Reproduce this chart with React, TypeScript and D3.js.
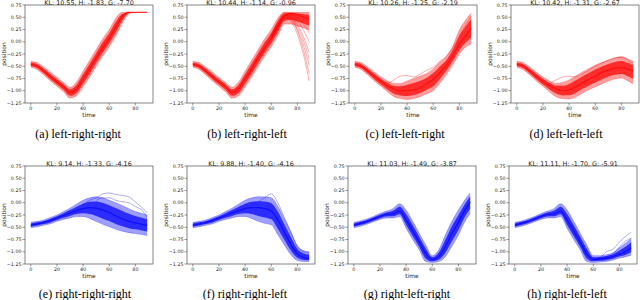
import React from 'react';
import * as d3 from 'd3';

// time samples (data runs 0..89)
const T = [0, 5, 10, 15, 20, 25, 30, 35, 40, 45, 50, 55, 60, 65, 70, 75, 80, 85, 89];

const TITLES = [
  'KL: 10.55, H: -1.83, G: -7.70',
  'KL: 10.44, H: -1.14, G: -0.96',
  'KL: 10.26, H: -1.25, G: -2.19',
  'KL: 10.42, H: -1.31, G: -2.67',
  'KL: 9.14, H: -1.33, G: -4.16',
  'KL: 9.88, H: -1.40, G: -4.16',
  'KL: 11.03, H: -1.49, G: -3.87',
  'KL: 11.11, H: -1.70, G: -5.91',
];
const CAPTIONS = [
  '(a) left-right-right', '(b) left-right-left', '(c) left-left-right', '(d) left-left-left',
  '(e) right-right-right', '(f) right-right-left', '(g) right-left-right', '(h) right-left-left',
];
const Y_TICKS = [-1.25, -1.0, -0.75, -0.5, -0.25, 0.0, 0.25, 0.5, 0.75];
const X_TICKS = [0, 20, 40, 60, 80];

// ---- (a) left-right-right
const A_LO = [-0.52, -0.57, -0.68, -0.80, -0.91, -1.02, -1.15, -1.10, -0.92, -0.72, -0.50, -0.29, -0.10, 0.12, 0.38, 0.57, 0.60, 0.60, 0.60];
const A_MID = [-0.46, -0.50, -0.60, -0.71, -0.82, -0.92, -1.03, -0.96, -0.76, -0.55, -0.33, -0.12, 0.07, 0.30, 0.52, 0.60, 0.60, 0.60, 0.60];
const A_HI = [-0.40, -0.43, -0.52, -0.62, -0.73, -0.83, -0.93, -0.82, -0.60, -0.38, -0.16, 0.06, 0.25, 0.48, 0.60, 0.60, 0.60, 0.60, 0.60];
const A_EXTRA: (number | null)[][] = [];

// ---- (b) left-right-left
const B_LO = [-0.52, -0.57, -0.68, -0.80, -0.91, -1.02, -1.15, -1.10, -0.92, -0.72, -0.50, -0.29, -0.10, 0.12, 0.36, 0.36, 0.32, 0.28, 0.24];
const B_MID = [-0.46, -0.50, -0.60, -0.71, -0.82, -0.92, -1.03, -0.96, -0.76, -0.55, -0.33, -0.12, 0.07, 0.30, 0.52, 0.58, 0.55, 0.50, 0.46];
const B_HI = [-0.40, -0.43, -0.52, -0.62, -0.73, -0.83, -0.93, -0.82, -0.60, -0.38, -0.16, 0.06, 0.25, 0.48, 0.60, 0.60, 0.60, 0.60, 0.60];
const B_EXTRA: (number | null)[][] = [
  [null, null, null, null, null, null, null, null, null, null, null, null, 0.05, 0.30, 0.50, 0.42, 0.15, -0.30, -0.80],
  [null, null, null, null, null, null, null, null, null, null, null, null, 0.08, 0.34, 0.54, 0.48, 0.25, -0.10, -0.48],
  [null, null, null, null, null, null, null, null, null, null, null, null, 0.10, 0.36, 0.56, 0.52, 0.35, 0.08, -0.22],
  [null, null, null, null, null, null, null, null, null, null, null, null, 0.04, 0.28, 0.50, 0.45, 0.22, -0.20, -0.65],
  [null, null, null, null, null, null, null, null, null, null, null, null, 0.12, 0.40, 0.58, 0.55, 0.42, 0.22, 0.00],
  [null, null, null, null, null, null, null, null, null, null, null, null, 0.06, 0.32, 0.53, 0.50, 0.30, 0.00, -0.35],
  [null, null, null, null, null, null, null, null, null, null, null, null, 0.14, 0.42, 0.59, 0.57, 0.48, 0.35, 0.18],
];

// ---- (c) left-left-right
const C_LO = [-0.52, -0.57, -0.68, -0.80, -0.91, -1.02, -1.12, -1.16, -1.18, -1.16, -1.12, -1.06, -1.00, -0.85, -0.67, -0.47, -0.25, -0.10, -0.05];
const C_MID = [-0.46, -0.50, -0.60, -0.71, -0.81, -0.90, -0.97, -1.00, -1.00, -0.98, -0.94, -0.86, -0.77, -0.63, -0.48, -0.28, -0.05, 0.13, 0.28];
const C_HI = [-0.40, -0.43, -0.52, -0.62, -0.72, -0.80, -0.85, -0.85, -0.80, -0.75, -0.70, -0.65, -0.55, -0.42, -0.30, -0.08, 0.24, 0.45, 0.58];
const C_EXTRA: (number | null)[][] = [
  [null, null, null, null, null, -0.85, -0.78, -0.70, -0.69, -0.72, -0.66, -0.58, -0.52, -0.40, -0.30, -0.12, 0.12, 0.35, 0.52],
];

// ---- (d) left-left-left
const D_LO = [-0.52, -0.57, -0.68, -0.80, -0.91, -1.02, -1.12, -1.16, -1.17, -1.13, -1.05, -0.98, -0.92, -0.86, -0.80, -0.76, -0.74, -0.80, -0.86];
const D_MID = [-0.46, -0.50, -0.60, -0.71, -0.81, -0.90, -0.96, -1.00, -0.98, -0.92, -0.84, -0.77, -0.70, -0.63, -0.58, -0.54, -0.53, -0.56, -0.60];
const D_HI = [-0.40, -0.43, -0.52, -0.62, -0.72, -0.80, -0.85, -0.83, -0.78, -0.70, -0.62, -0.55, -0.48, -0.42, -0.37, -0.33, -0.30, -0.35, -0.40];
const D_EXTRA: (number | null)[][] = [
  [null, null, null, null, null, -0.85, -0.78, -0.72, -0.70, -0.72, -0.66, -0.58, -0.50, -0.44, -0.38, -0.33, -0.32, -0.38, -0.45],
];

// ---- (e) right-right-right
const E_LO = [-0.51, -0.49, -0.46, -0.43, -0.38, -0.34, -0.31, -0.28, -0.28, -0.32, -0.38, -0.44, -0.49, -0.54, -0.58, -0.61, -0.63, -0.65, -0.67];
const E_MID = [-0.46, -0.43, -0.40, -0.36, -0.31, -0.26, -0.21, -0.16, -0.12, -0.10, -0.11, -0.15, -0.20, -0.27, -0.33, -0.38, -0.41, -0.44, -0.46];
const E_HI = [-0.40, -0.38, -0.35, -0.30, -0.25, -0.18, -0.11, -0.03, 0.05, 0.10, 0.12, 0.10, 0.05, 0.00, -0.06, -0.12, -0.18, -0.22, -0.25];
const E_EXTRA: (number | null)[][] = [
  [null, null, null, null, null, null, null, null, -0.05, 0.05, 0.10, 0.18, 0.20, 0.17, 0.15, 0.12, 0.02, -0.10, -0.20],
  [null, null, null, null, null, null, null, null, null, null, 0.05, 0.10, 0.10, 0.05, 0.02, 0.00, -0.08, -0.15, -0.30],
];

// ---- (f) right-right-left
const F_LO = [-0.51, -0.49, -0.46, -0.43, -0.38, -0.34, -0.31, -0.28, -0.28, -0.32, -0.38, -0.42, -0.45, -0.65, -0.86, -1.06, -1.18, -1.20, -1.20];
const F_MID = [-0.46, -0.43, -0.40, -0.36, -0.31, -0.26, -0.21, -0.16, -0.12, -0.10, -0.10, -0.12, -0.17, -0.35, -0.60, -0.85, -1.04, -1.12, -1.14];
const F_HI = [-0.40, -0.38, -0.35, -0.30, -0.25, -0.18, -0.11, -0.03, 0.05, 0.10, 0.12, 0.12, 0.10, -0.07, -0.33, -0.60, -0.88, -0.98, -1.00];
const F_EXTRA: (number | null)[][] = [
  [null, null, null, null, null, null, null, null, null, null, 0.02, 0.10, 0.18, 0.00, -0.30, -0.60, -0.90, -1.00, -1.02],
];

// ---- (g) right-left-right
const G_LO = [-0.51, -0.48, -0.44, -0.39, -0.34, -0.31, -0.31, -0.28, -0.52, -0.75, -0.96, -1.20, -1.22, -1.20, -1.10, -0.89, -0.66, -0.38, -0.22];
const G_MID = [-0.46, -0.42, -0.38, -0.33, -0.28, -0.24, -0.23, -0.17, -0.35, -0.57, -0.80, -1.04, -1.16, -1.10, -0.90, -0.63, -0.40, -0.15, 0.02];
const G_HI = [-0.40, -0.37, -0.33, -0.28, -0.22, -0.17, -0.12, -0.02, -0.15, -0.38, -0.62, -0.86, -1.08, -0.96, -0.66, -0.38, -0.15, 0.06, 0.20];
const G_EXTRA: (number | null)[][] = [];

// ---- (h) right-left-left
const H_LO = [-0.51, -0.48, -0.44, -0.39, -0.34, -0.31, -0.31, -0.28, -0.52, -0.75, -0.96, -1.20, -1.22, -1.21, -1.20, -1.17, -1.13, -1.10, -1.07];
const H_MID = [-0.46, -0.42, -0.38, -0.33, -0.28, -0.24, -0.23, -0.17, -0.35, -0.57, -0.80, -1.04, -1.16, -1.15, -1.13, -1.10, -1.05, -1.00, -0.92];
const H_HI = [-0.40, -0.37, -0.33, -0.28, -0.22, -0.17, -0.12, -0.02, -0.15, -0.38, -0.62, -0.86, -1.08, -1.08, -1.06, -1.02, -0.92, -0.82, -0.73];
const H_EXTRA: (number | null)[][] = [
  [null, null, null, null, null, null, null, null, null, null, null, null, -1.14, -1.12, -1.00, -0.95, -0.80, -0.68, -0.60],
  [null, null, null, null, null, null, null, null, null, null, null, null, -1.15, -1.14, -1.10, -1.05, -0.90, -0.78, -0.72],
];

const RED = '#ff0000';
const BLUE = '#0000ff';

const PANEL_LEFT = [[25, 187, 349, 511], [25, 187, 348, 509]];
const PANEL_TOP = [5, 166];
const PLOT_W = 128;
const PLOT_H = 98;
const CAPTION_X = [[78, 247, 405, 566], [85, 245, 407, 567]];
const CAPTION_Y = [138, 298];

const SERIES = [
  { lo: A_LO, mid: A_MID, hi: A_HI, extra: A_EXTRA, color: RED },
  { lo: B_LO, mid: B_MID, hi: B_HI, extra: B_EXTRA, color: RED },
  { lo: C_LO, mid: C_MID, hi: C_HI, extra: C_EXTRA, color: RED },
  { lo: D_LO, mid: D_MID, hi: D_HI, extra: D_EXTRA, color: RED },
  { lo: E_LO, mid: E_MID, hi: E_HI, extra: E_EXTRA, color: BLUE },
  { lo: F_LO, mid: F_MID, hi: F_HI, extra: F_EXTRA, color: BLUE },
  { lo: G_LO, mid: G_MID, hi: G_HI, extra: G_EXTRA, color: BLUE },
  { lo: H_LO, mid: H_MID, hi: H_HI, extra: H_EXTRA, color: BLUE },
];

const fmtY = (v: number) => d3.format('.2f')(v).replace('-', '\u2212');

function Panel({ idx }: { idx: number }) {
  const row = Math.floor(idx / 4);
  const col = idx % 4;
  const left = PANEL_LEFT[row][col];
  const top = PANEL_TOP[row];
  const s = SERIES[idx];
  const x = d3.scaleLinear().domain([-4.45, 93.45]).range([left, left + PLOT_W]);
  const y = d3.scaleLinear().domain([-1.25, 0.75]).range([top + PLOT_H, top]);
  const curve = d3.curveMonotoneX;

  const area = d3.area<number>().x((_, i) => x(T[i])).y0((_, i) => y(s.lo[i])).y1((_, i) => y(s.hi[i])).curve(curve);
  const core = d3.area<number>()
    .x((_, i) => x(T[i]))
    .y0((_, i) => y(s.mid[i] - 0.6 * (s.mid[i] - s.lo[i])))
    .y1((_, i) => y(s.mid[i] + 0.6 * (s.hi[i] - s.mid[i])))
    .curve(curve);
  const line = d3.line<number | null>().defined((d) => d !== null).x((_, i) => x(T[i])).y((d) => y(d as number)).curve(curve);
  const clipId = `clip${idx}`;
  const bottom = top + PLOT_H;

  return (
    <g>
      <defs>
        <clipPath id={clipId}>
          <rect x={left} y={top} width={PLOT_W} height={PLOT_H} />
        </clipPath>
      </defs>
      <g clipPath={`url(#${clipId})`}>
        <path d={area(T) || ''} fill={s.color} opacity={0.38} />
        <path d={core(T) || ''} fill={s.color} opacity={0.72} />
        <path d={line(s.lo) || ''} fill="none" stroke={s.color} strokeWidth={0.5} strokeOpacity={0.5} />
        <path d={line(s.hi) || ''} fill="none" stroke={s.color} strokeWidth={0.5} strokeOpacity={0.5} />
        <path d={line(s.mid) || ''} fill="none" stroke={s.color} strokeWidth={1.2} strokeOpacity={0.7} />
        {s.extra.map((e, k) => (
          <path key={k} d={line(e) || ''} fill="none" stroke={s.color} strokeWidth={0.55} strokeOpacity={0.6} />
        ))}
      </g>
      <rect x={left} y={top} width={PLOT_W} height={PLOT_H} fill="none" stroke="#333" strokeWidth={0.6} />
      {Y_TICKS.map((t) => (
        <g key={t}>
          <line x1={left - 2.5} x2={left} y1={y(t)} y2={y(t)} stroke="#333" strokeWidth={0.5} />
          <text x={left - 3.5} y={y(t) + 1.7} fontSize={4.8} textAnchor="end" fill="#222" fontFamily="DejaVu Sans">{fmtY(t)}</text>
        </g>
      ))}
      {X_TICKS.map((t) => (
        <g key={t}>
          <line x1={x(t)} x2={x(t)} y1={bottom} y2={bottom + 2.5} stroke="#333" strokeWidth={0.5} />
          <text x={x(t)} y={bottom + 7.3} fontSize={4.8} textAnchor="middle" fill="#222" fontFamily="DejaVu Sans">{t}</text>
        </g>
      ))}
      <text x={left + PLOT_W / 2} y={bottom + 14} fontSize={5.9} textAnchor="middle" fill="#222" fontFamily="DejaVu Sans">time</text>
      <text transform={`translate(${left - 19.5},${top + PLOT_H / 2}) rotate(-90)`} fontSize={5.9} textAnchor="middle" fill="#222" fontFamily="DejaVu Sans">position</text>
      <text x={left + PLOT_W / 2} y={top - 0.4} fontSize={6.4} textAnchor="middle" fill="#222" fontFamily="DejaVu Sans">{TITLES[idx]}</text>
      <text x={CAPTION_X[row][col]} y={CAPTION_Y[row]} fontSize={12} textAnchor="middle" fill="#000" fontFamily="Liberation Serif">{CAPTIONS[idx]}</text>
    </g>
  );
}

export default function App() {
  return (
    <svg width={640} height={300} style={{ position: 'absolute', left: 0, top: 0, background: '#fff' }}>
      {SERIES.map((_, i) => (
        <Panel key={i} idx={i} />
      ))}
    </svg>
  );
}
